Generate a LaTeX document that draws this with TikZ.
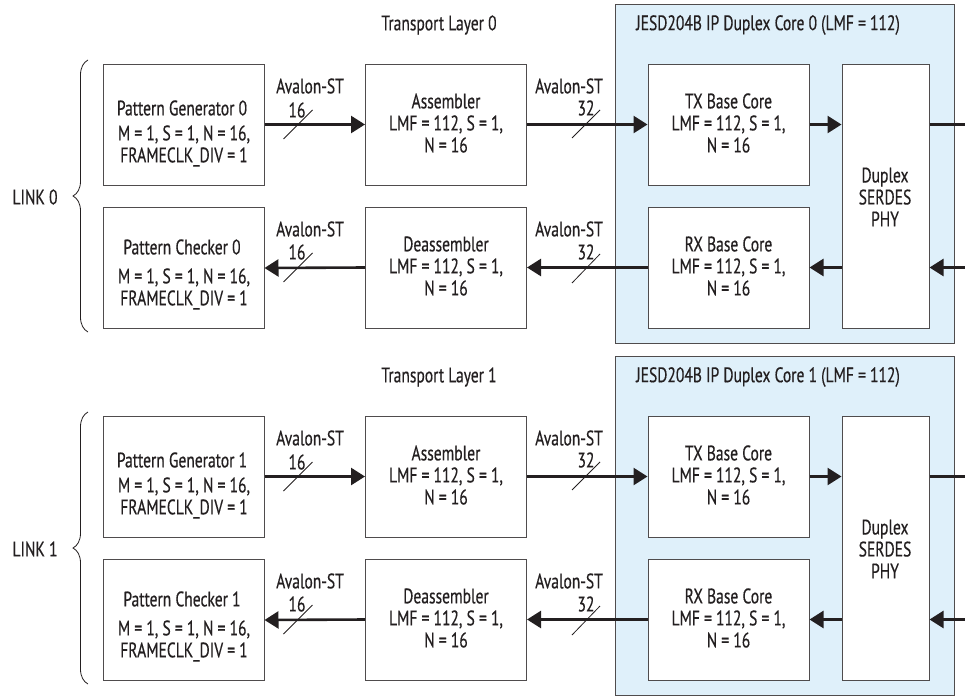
\documentclass[tikz,border=0pt]{standalone}
\usepackage{fontspec}
\setmainfont{PT Sans}[FakeStretch=0.74,FakeBold=0.4]
\usetikzlibrary{decorations.pathreplacing,arrows.meta,calc}
\definecolor{corebg}{RGB}{223,240,250}
\definecolor{ink}{RGB}{35,31,32}
\begin{document}
\begin{tikzpicture}[x=1pt,y=-1pt,
  font=\fontsize{21}{22}\selectfont, text=ink,
  core/.style={draw=ink!80, fill=corebg, line width=1pt, minimum width=339pt, minimum height=339pt, inner sep=0pt},
  blk/.style={draw=ink!80, fill=white, line width=1pt, inner sep=0pt},
  gbox/.style={blk, minimum width=161pt, minimum height=121pt},
  pbox/.style={blk, minimum width=87pt, minimum height=264pt},
  txt/.style={inner sep=0pt, align=center},
  arr/.style={draw=ink, line width=2.6pt, -{Triangle[length=14pt,width=17pt]}},
  wire/.style={draw=ink, line width=2.6pt},
  slash/.style={draw=ink, line width=0.8pt},
  brc/.style={draw=ink, line width=0.8pt, decorate, decoration={brace, amplitude=15pt}}
]
\useasboundingbox (0,0) rectangle (965,696);
\foreach \i/\off in {0/0,1/352} {
  % core background
  \node[core] (core\i) at (784.5,173.5+\off) {};
  \node[txt] (tl\i) at (439,25+\off) {Transport Layer \i};
  \node[txt] (ct\i) at (768,25+\off) {JESD204B IP Duplex Core \i{} (LMF = 112)};
  % boxes
  \node[gbox] (gen\i) at (183.5,124.5+\off) {};
  \node[gbox] (chk\i) at (183.5,268+\off) {};
  \node[gbox] (asm\i) at (446,124.5+\off) {};
  \node[gbox] (dsm\i) at (446,267.5+\off) {};
  \node[gbox] (tx\i) at (728.5,124.5+\off) {};
  \node[gbox] (rx\i) at (728.5,267.5+\off) {};
  \node[pbox] (dup\i) at (885.5,196+\off) {};
  % texts
  \node[txt] (gent\i) at (182,108+\off) {Pattern Generator \i};
  \node[txt] (genp\i) at (184,146+\off) {M = 1, S = 1, N = 16,\\FRAMECLK\_DIV = 1};
  \node[txt] (chkt\i) at (182,247+\off) {Pattern Checker \i};
  \node[txt] (chkp\i) at (184,289+\off) {M = 1, S = 1, N = 16,\\FRAMECLK\_DIV = 1};
  \node[txt] (asmt\i) at (446,123+\off) {Assembler\\LMF = 112, S = 1,\\N = 16};
  \node[txt] (dsmt\i) at (446,266+\off) {Deassembler\\LMF = 112, S = 1,\\N = 16};
  \node[txt] (txt\i) at (728.5,123+\off) {TX Base Core\\LMF = 112, S = 1,\\N = 16};
  \node[txt] (rxt\i) at (728.5,266+\off) {RX Base Core\\LMF = 112, S = 1,\\N = 16};
  \node[txt] (dupt\i) at (885,197+\off) {Duplex\\SERDES\\PHY};
  % connectors
  \draw[arr] (gen\i.east) -- (asm\i.west);
  \draw[arr] (dsm\i.west) -- (chk\i.east);
  \draw[arr] (asm\i.east) -- (tx\i.west);
  \draw[arr] (rx\i.west) -- (dsm\i.east);
  \draw[arr] (tx\i.east) -- (tx\i.east -| dup\i.west);
  \coordinate (out\i) at (965,124.5+\off);
  \coordinate (in\i) at (965,267.5+\off);
  \draw[wire] (dup\i.east |- out\i) -- (out\i);
  \draw[arr] (in\i) -- (dup\i.east |- in\i);
  \draw[arr] (rx\i.west -| dup\i.west) -- (rx\i.east);
  % bus slashes
  \draw[slash] ($(gen\i.east)+(19,14.5)$) -- ++(29,-29);
  \draw[slash] ($(chk\i.east)+(19,14)$) -- ++(29,-29);
  \draw[slash] ($(asm\i.east)+(45,13.5)$) -- ++(28,-28);
  \draw[slash] ($(dsm\i.east)+(45,15.5)$) -- ++(28,-29);
  % bus labels
  \node[txt] (la\i) at (310,86+\off) {Avalon-ST};
  \node[txt] (lb\i) at (297,110+\off) {16};
  \node[txt] (lc\i) at (310,229+\off) {Avalon-ST};
  \node[txt] (ld\i) at (297,252+\off) {16};
  \node[txt] (le\i) at (569,86+\off) {Avalon-ST};
  \node[txt] (lf\i) at (586,108+\off) {32};
  \node[txt] (lg\i) at (569,229+\off) {Avalon-ST};
  \node[txt] (lh\i) at (586,252+\off) {32};
  % brace and link label
  \draw[brc] (88,332+\off) -- (88,60+\off);
  \node[txt] (lk\i) at (35,197+\off) {LINK \i};
}
\end{tikzpicture}
\end{document}
